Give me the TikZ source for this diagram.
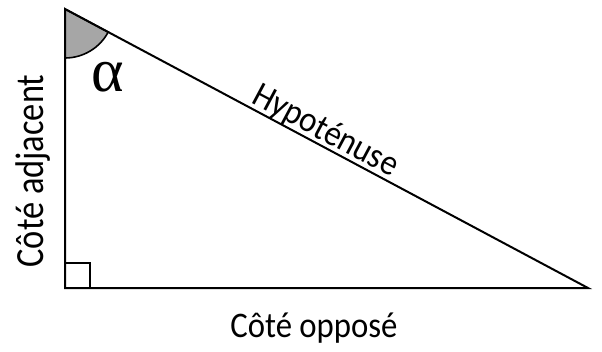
\documentclass[tikz,border=0pt]{standalone}
\usepackage{fontspec}
\setmainfont{Carlito}
\newfontfamily\greekfont{Liberation Serif}
\usetikzlibrary{positioning}
\definecolor{trigInk}{HTML}{000000}
\definecolor{trigShade}{HTML}{A6A6A6}
\newcommand{\trigtext}[2][0.91]{\scalebox{#1}[1]{#2}}
\tikzset{
  every picture/.style={font=\fontsize{36}{42}\selectfont, text=trigInk},
  trig side/.style={draw=trigInk, line width=2pt, line join=miter},
  trig angle/.style={draw=trigInk, fill=trigShade, line width=1.6pt},
  trig right/.style={draw=trigInk, line width=1.6pt},
  trig label/.style={inner sep=0pt, anchor=base},
  trig greek/.style={inner sep=0pt, anchor=base, font=\greekfont\fontsize{62}{68}\selectfont}
}
\begin{document}
\begin{tikzpicture}[x=1pt,y=1pt]
  \useasboundingbox (0,0) rectangle (602,351);
  \coordinate (top) at (65,342);
  \coordinate (corner) at (65,63);
  \coordinate (foot) at (588,63);
  % shaded angle at the top
  \filldraw[trig angle] (top) -- ++(-90:49) arc[start angle=-90, end angle=-28.07, radius=49] -- cycle;
  % right angle mark
  \draw[trig right] (corner) rectangle ++(25,25);
  \draw[trig side] (top) -- (corner) -- (foot) -- cycle;
  \path (top) -- (foot) node[trig label, pos=0.485, sloped, yshift=5pt] (hyp) {\trigtext{Hypoténuse}};
  \node[trig label, rotate=90, font=\fontsize{40}{46}\selectfont] (adj) at (43,180) {\trigtext[0.86]{Côté adjacent}};
  \node[trig label] (opp) at (314,14) {\trigtext{Côté opposé}};
  \node[trig greek] (alpha) at (108,259) {α};
\end{tikzpicture}
\end{document}
